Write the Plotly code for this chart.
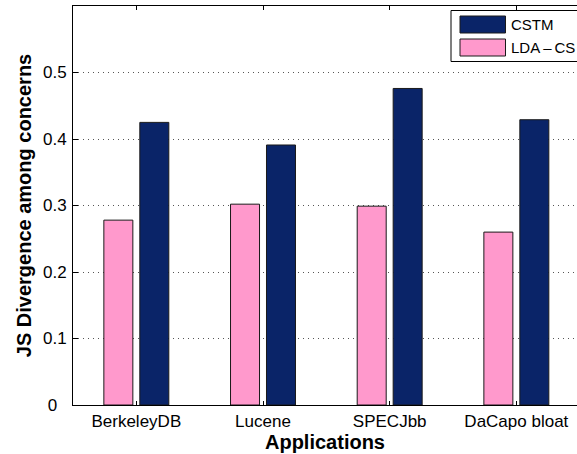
import plotly.graph_objects as go

# ---- data ----
categories = ["BerkeleyDB", "Lucene", "SPECJbb", "DaCapo bloat"]
series_names = ["LDA\u2009–\u2009CS", "CSTM"]
lda_values = [0.278, 0.302, 0.299, 0.260]
cstm_values = [0.425, 0.391, 0.476, 0.429]
y_tick_vals = [0, 0.1, 0.2, 0.3, 0.4, 0.5]
y_tick_text = ["0\u00a0\u00a0", "0.1", "0.2", "0.3", "0.4", "0.5"]

# ---- styling ----
PINK = "#ff99cc"
NAVY = "#0a2468"
FONT = "Liberation Sans, Arial, Helvetica, sans-serif"
W, H = 577, 454
ML, MT, MB, MR = 73, 6, 49, 0
plot_w = W - ML - MR
plot_h = H - MT - MB
unit_px = 126.67  # px per category

fig = go.Figure()
fig.add_trace(go.Bar(x=categories, y=lda_values, name=series_names[0],
                     marker=dict(color=PINK, line=dict(color="#1a1a1a", width=1)),
                     showlegend=False))
fig.add_trace(go.Bar(x=categories, y=cstm_values, name=series_names[1],
                     marker=dict(color=NAVY, line=dict(color="#1a1a1a", width=1)),
                     showlegend=False))

fig.update_layout(
    width=W, height=H,
    margin=dict(l=ML, r=MR, t=MT, b=MB, pad=0),
    paper_bgcolor="white", plot_bgcolor="white",
    barmode="group", bargap=0.432, bargroupgap=0.194,
    font=dict(family=FONT, color="black"),
    xaxis=dict(
        type="category",
        range=[-0.5, -0.5 + plot_w / unit_px],
        showline=True, linecolor="black", linewidth=1, mirror="ticks",
        ticks="inside", ticklen=4, tickcolor="black", tickwidth=1,
        showgrid=False, tickfont=dict(size=17),
        ticklabelstandoff=1,
        title=dict(text="<b>Applications</b>", font=dict(size=20), standoff=2),
    ),
    yaxis=dict(
        range=[0, 0.6],
        tickvals=y_tick_vals, ticktext=y_tick_text,
        showline=True, linecolor="black", linewidth=1,
        ticks="inside", ticklen=5, tickcolor="black", tickwidth=1,
        showgrid=True, gridcolor="#555", griddash="1px,4px", gridwidth=1,
        zeroline=False, tickfont=dict(size=17),
        ticklabelstandoff=2,
        title=dict(text="<b>JS Divergence among concerns</b>", font=dict(size=20), standoff=5),
    ),
)

# ---- legend (drawn in the MATLAB style) ----
def px_x(p):
    return (p - ML) / plot_w

def px_y(p):
    return (H - MB - p) / plot_h

fig.add_shape(type="rect", xref="paper", yref="paper",
              x0=px_x(451), x1=px_x(579), y0=px_y(61.5), y1=px_y(10.5),
              line=dict(color="black", width=1), fillcolor="white", layer="above")
legend_items = [(series_names[1], NAVY, 16, 33), (series_names[0], PINK, 39, 56)]
for name, col, ya, yb in legend_items:
    fig.add_shape(type="rect", xref="paper", yref="paper",
                  x0=px_x(460), x1=px_x(505.5), y0=px_y(yb), y1=px_y(ya),
                  line=dict(color="#1a1a1a", width=1), fillcolor=col, layer="above")
    fig.add_annotation(xref="paper", yref="paper", x=px_x(509), y=px_y((ya + yb) / 2),
                       xanchor="left", yanchor="middle", showarrow=False,
                       text=name, font=dict(size=15, color="black"))

fig.write_html("out.html",
               config={"displayModeBar": False},
               post_script="document.body.style.margin='0';document.body.style.overflow='hidden';")
